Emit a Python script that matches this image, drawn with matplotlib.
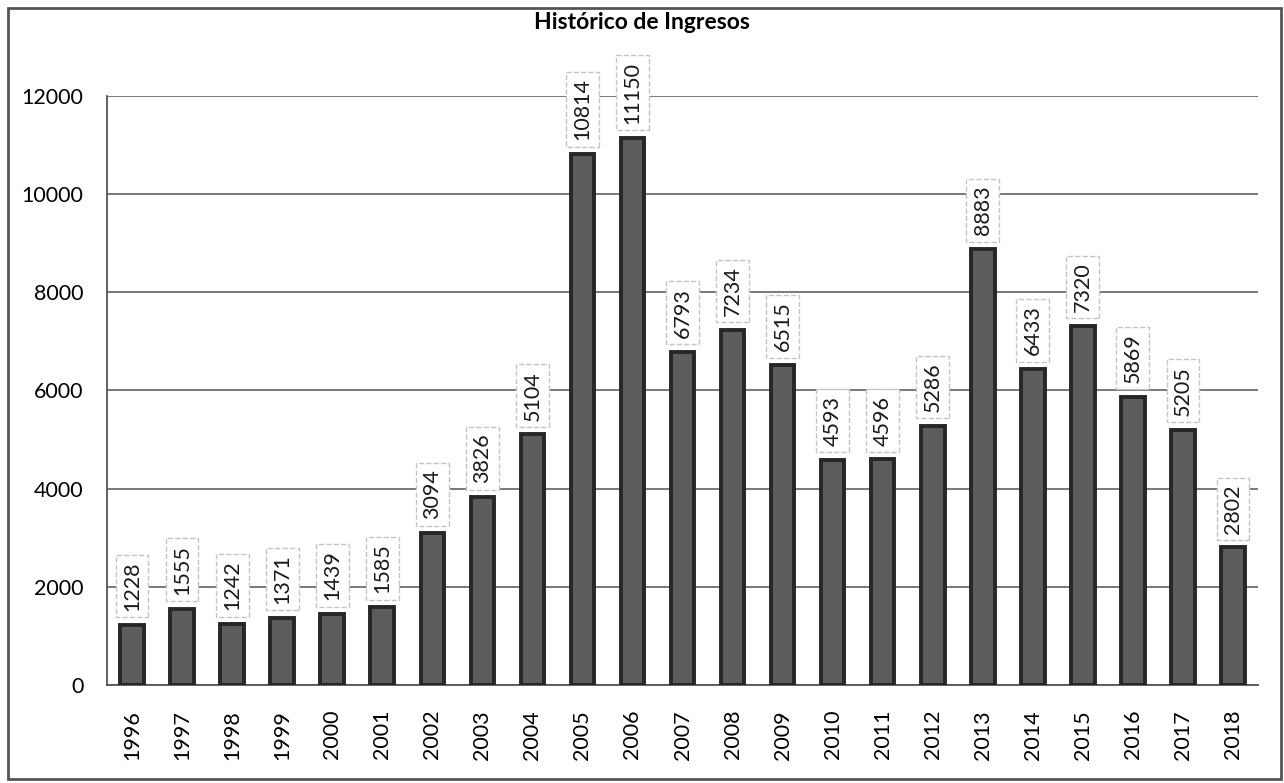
import numpy as np
import matplotlib.pyplot as plt
from matplotlib.patches import Rectangle

plt.rcParams['font.family'] = ['Lato', 'DejaVu Sans']

years = [str(y) for y in range(1996, 2019)]
ingresos = [1228, 1555, 1242, 1371, 1439, 1585, 3094, 3826, 5104, 10814, 11150,
            6793, 7234, 6515, 4593, 4596, 5286, 8883, 6433, 7320, 5869, 5205, 2802]

fig = plt.figure(figsize=(12.84, 7.83), dpi=100)
ax = fig.add_axes([0.0833, 0.1252, 0.8965, 0.7522])

x = np.arange(len(years))
ax.bar(x, ingresos, width=0.47, color='#5c5c5c', edgecolor='#262626', linewidth=2.8, zorder=3)

for xi, v in zip(x, ingresos):
    ax.annotate(str(v), (xi, v), xytext=(0, 10), textcoords='offset points',
                rotation=90, ha='center', va='bottom', fontsize=15.5, color='#1a1a1a',
                bbox=dict(boxstyle='square,pad=0.3', fc='white', ec='#c4c4c4', lw=1, ls='--'),
                zorder=4)

ax.set_xlim(-0.5, len(years) - 0.5)
ax.set_ylim(0, 12000)
ax.set_yticks(np.arange(0, 12001, 2000))
ax.set_xticks(x)
ax.set_xticklabels(years, rotation=90, fontsize=15.5)
ax.tick_params(axis='y', labelsize=15.5, length=0, pad=17)
ax.tick_params(axis='x', length=0, pad=18)
ax.grid(axis='y', color='#555555', linewidth=1.1, zorder=0)
for s in ['top', 'right']:
    ax.spines[s].set_visible(False)
ax.spines['left'].set_color('#555555')
ax.spines['bottom'].set_color('#555555')
ax.spines['left'].set_linewidth(1.3)
ax.spines['bottom'].set_linewidth(1.3)

fig.text(0.5, 0.985, 'Histórico de Ingresos', ha='center', va='top',
         fontsize=16.5, fontweight='bold')

fig.patches.append(Rectangle((0.006, 0.005), 0.992, 0.985, transform=fig.transFigure,
                             fill=False, ec='#555555', lw=2))

fig.savefig('out.png', dpi=100)
